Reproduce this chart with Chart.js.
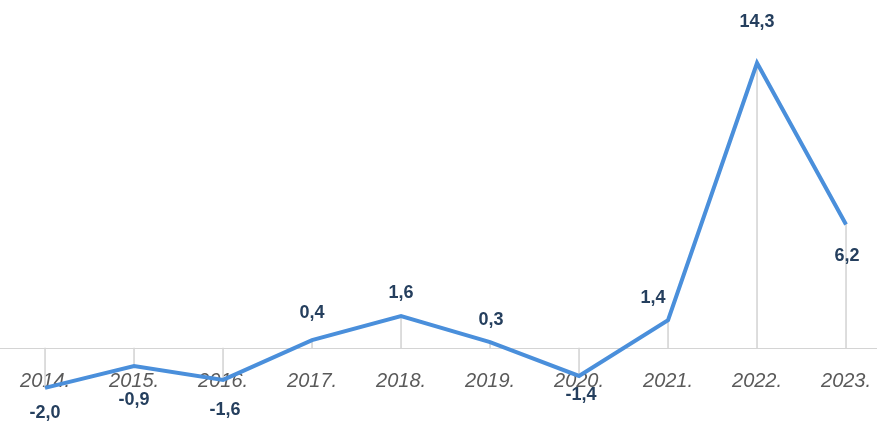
<!DOCTYPE html>
<html>
<head>
<meta charset="utf-8">
<script src="https://cdn.jsdelivr.net/npm/chart.js@4.4.1/dist/chart.umd.min.js"></script>
<style>
  html, body { margin: 0; padding: 0; background: #ffffff; }
  #wrap { width: 877px; height: 421px; position: relative; }
</style>
</head>
<body>
<div id="wrap"><canvas id="c"></canvas></div>
<script>
// ---- data ----
const years = ['2014.', '2015.', '2016.', '2017.', '2018.', '2019.', '2020.', '2021.', '2022.', '2023.'];
const values = [-2.0, -0.9, -1.6, 0.4, 1.6, 0.3, -1.4, 1.4, 14.3, 6.2];
const valueLabels = ['-2,0', '-0,9', '-1,6', '0,4', '1,6', '0,3', '-1,4', '1,4', '14,3', '6,2'];

// ---- label placement (style, kept separate from data) ----
const labelOffsets = [[0, 25], [0, 34], [2, 30], [0, -27], [0, -23], [1, -22], [2, 19], [-15, -22], [0, -41], [1, 32]];

const points = values.map((v, i) => ({ x: i, y: v }));

const dataLabelPlugin = {
  id: 'valueLabels',
  afterDatasetsDraw(chart) {
    const meta = chart.getDatasetMeta(0);
    const ctx = chart.ctx;
    ctx.save();
    ctx.font = 'bold 18px "Liberation Sans", Arial, sans-serif';
    ctx.fillStyle = '#253f5e';
    ctx.textAlign = 'center';
    ctx.textBaseline = 'middle';
    meta.data.forEach((el, i) => {
      const off = labelOffsets[i];
      ctx.fillText(valueLabels[i], el.x + off[0], el.y + off[1]);
    });
    ctx.restore();
  }
};

new Chart(document.getElementById('c'), {
  data: {
    datasets: [
      {
        type: 'line',
        data: points,
        borderColor: '#4a8fdb',
        borderWidth: 4,
        pointRadius: 0,
        tension: 0,
        fill: false,
        order: 0
      },
      {
        type: 'bar',
        data: points,
        backgroundColor: '#d6d6d6',
        borderWidth: 0,
        barThickness: 1,
        order: 1
      }
    ]
  },
  options: {
    responsive: true,
    maintainAspectRatio: false,
    animation: false,
    layout: { padding: 0 },
    plugins: { legend: { display: false }, tooltip: { enabled: false }, title: { display: false } },
    scales: {
      x: {
        type: 'linear',
        position: { y: 0 },
        offset: false,
        min: -0.506,
        max: 9.348,
        grid: { display: false, drawTicks: true, tickLength: 21, offset: false },
        border: { display: true, color: '#d4d4d4', width: 1 },
        ticks: {
          stepSize: 1,
          includeBounds: false,
          autoSkip: false,
          maxRotation: 0,
          padding: 0,
          color: '#5a5a5a',
          font: { family: '"Liberation Sans", Arial, sans-serif', size: 20, style: 'italic' },
          callback: (v) => {
            const i = Math.round(v);
            return (Math.abs(v - i) < 1e-6 && years[i]) ? years[i] : '';
          }
        }
      },
      y: {
        display: false,
        min: -3.66,
        max: 17.46
      }
    }
  },
  plugins: [dataLabelPlugin]
});
</script>
</body>
</html>
